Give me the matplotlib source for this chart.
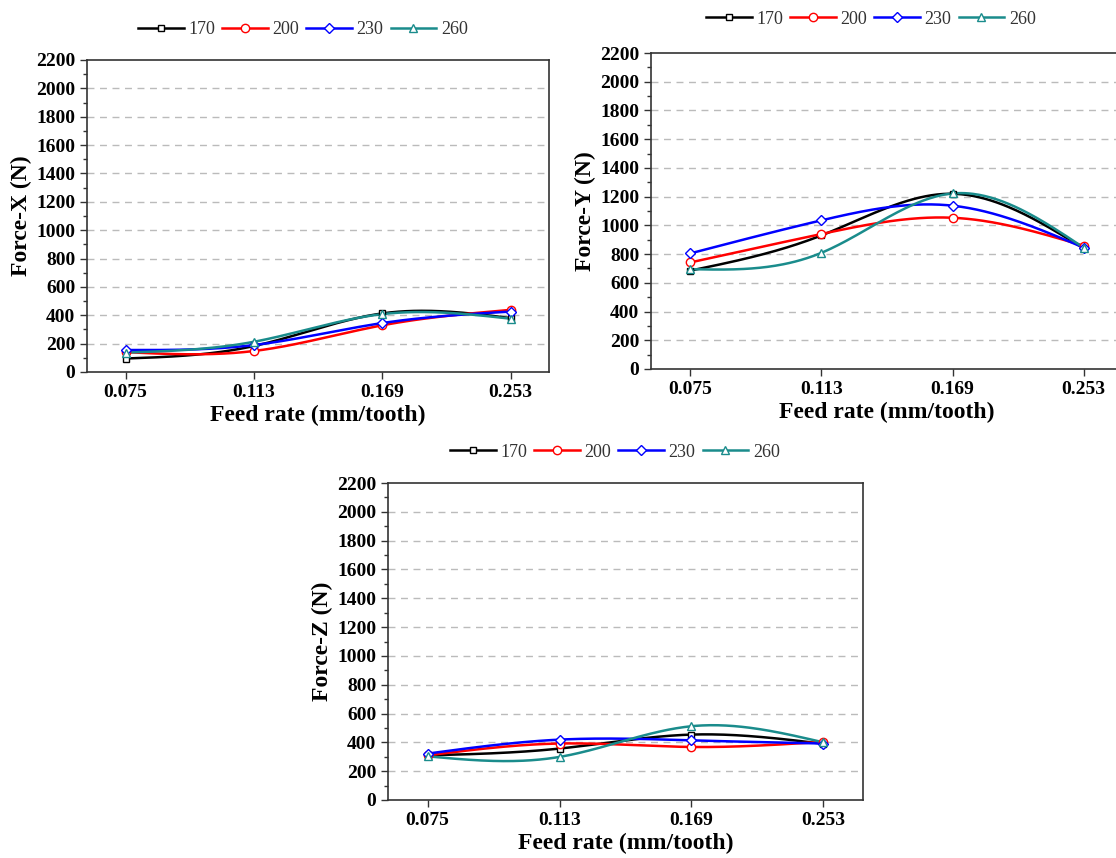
import numpy as np
import matplotlib
matplotlib.use("Agg")
import matplotlib.pyplot as plt
from matplotlib.ticker import MultipleLocator

plt.rcParams['font.family'] = ['Liberation Serif', 'DejaVu Serif']

feed_rates = ["0.075", "0.113", "0.169", "0.253"]
speeds = ["170", "200", "230", "260"]

force_x = {
    "170": [95, 183, 413, 380],
    "200": [140, 148, 329, 438],
    "230": [155, 190, 345, 426],
    "260": [137, 213, 408, 376],
}
force_y = {
    "170": [685, 930, 1220, 840],
    "200": [742, 940, 1053, 858],
    "230": [805, 1035, 1137, 845],
    "260": [695, 809, 1222, 845],
}
force_z = {
    "170": [310, 357, 454, 390],
    "200": [310, 392, 368, 404],
    "230": [322, 419, 414, 392],
    "260": [303, 299, 512, 400],
}

colors = {"170": "#000000", "200": "#FF0000", "230": "#0000FF", "260": "#1A8C8C"}
markers = {"170": "s", "200": "o", "230": "D", "260": "^"}
msizes = {"170": 5, "200": 6, "230": 5, "260": 6}


def natural_spline(x, y, n=200):
    x = np.asarray(x, float)
    y = np.asarray(y, float)
    k = len(x)
    h = np.diff(x)
    A = np.zeros((k, k))
    b = np.zeros(k)
    A[0, 0] = 1
    A[-1, -1] = 1
    for i in range(1, k - 1):
        A[i, i - 1] = h[i - 1]
        A[i, i] = 2 * (h[i - 1] + h[i])
        A[i, i + 1] = h[i]
        b[i] = 6 * ((y[i + 1] - y[i]) / h[i] - (y[i] - y[i - 1]) / h[i - 1])
    M = np.linalg.solve(A, b)
    xs = np.linspace(x[0], x[-1], n)
    ys = np.empty_like(xs)
    for j, xv in enumerate(xs):
        i = min(np.searchsorted(x, xv, side='right') - 1, k - 2)
        t1 = x[i + 1] - xv
        t0 = xv - x[i]
        ys[j] = (M[i] * t1 ** 3 / (6 * h[i]) + M[i + 1] * t0 ** 3 / (6 * h[i])
                 + (y[i] / h[i] - M[i] * h[i] / 6) * t1
                 + (y[i + 1] / h[i] - M[i + 1] * h[i] / 6) * t0)
    return xs, ys


W, H = 1116, 858
fig = plt.figure(figsize=(W / 100, H / 100), dpi=100)


def make_axes(px_left, px_right, px_top, px_bottom):
    return fig.add_axes([px_left / W, 1 - px_bottom / H,
                         (px_right - px_left) / W, (px_bottom - px_top) / H])


panels = [
    (make_axes(87, 549, 60, 372), force_x, "Force-X (N)", (303 / W, 1 - 30 / H)),
    (make_axes(651, 1123, 53, 369), force_y, "Force-Y (N)", (871 / W, 1 - 19 / H)),
    (make_axes(388, 863, 483, 800), force_z, "Force-Z (N)", (615 / W, 1 - 452 / H)),
]

xi = np.arange(len(feed_rates))
for ax, data, ylabel, legpos in panels:
    handles = []
    for s in speeds:
        xs, ys = natural_spline(xi, data[s])
        ax.plot(xs, ys, color=colors[s], lw=1.8, zorder=3)
        ax.plot(xi, data[s], linestyle='none', marker=markers[s], ms=msizes[s],
                mfc='white', mec=colors[s], mew=1.0, zorder=4)
        h, = ax.plot([], [], color=colors[s], lw=1.8, marker=markers[s],
                     ms=msizes[s], mfc='white', mec=colors[s], mew=1.0, label=s)
        handles.append(h)
    ax.set_xlim(-0.3, len(feed_rates) - 1 + 0.3)
    ax.set_ylim(0, 2200)
    ax.set_xticks(xi)
    ax.set_xticklabels(feed_rates)
    ax.yaxis.set_major_locator(MultipleLocator(200))
    ax.yaxis.set_minor_locator(MultipleLocator(100))
    ax.tick_params(axis='both', which='both', direction='out', labelsize=14,
                   top=False, right=False, color='#333333')
    ax.tick_params(axis='both', which='major', length=5, width=1)
    ax.tick_params(axis='y', which='minor', length=3, width=1)
    for lab in ax.get_xticklabels() + ax.get_yticklabels():
        lab.set_fontweight('bold')
    for t in range(200, 2200, 200):
        ax.axhline(t, color='#BBBBBB', lw=1, ls=(0, (5, 4)), zorder=1)
    for sp in ax.spines.values():
        sp.set_color('#333333')
        sp.set_linewidth(1.2)
    ax.set_xlabel("Feed rate (mm/tooth)", fontsize=17, fontweight='bold', labelpad=3)
    ax.set_ylabel(ylabel, fontsize=17, fontweight='bold', labelpad=3)
    fig.legend(handles=handles, loc='center', bbox_to_anchor=legpos, ncol=4,
               frameon=False, fontsize=13, handlelength=2.5, handletextpad=0.28,
               columnspacing=0.39, labelcolor='#333333')

fig.savefig("out.png", dpi=100)
